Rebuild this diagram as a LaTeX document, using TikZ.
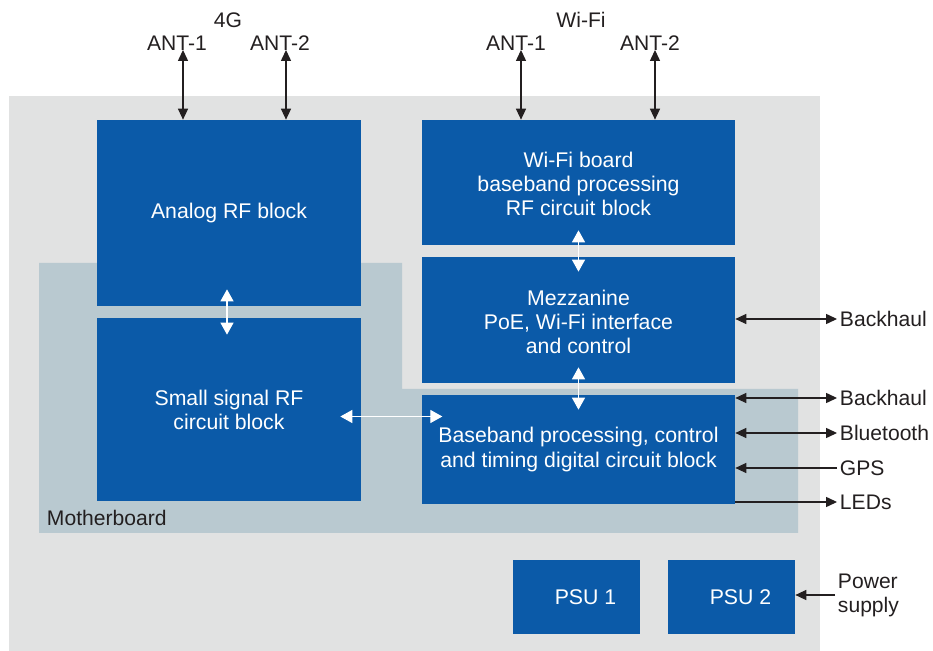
\documentclass[tikz,border=0pt]{standalone}
\usepackage{fontspec}
\setmainfont{Liberation Sans}
\usepackage{xcolor}
\usetikzlibrary{arrows.meta,fit,calc}
\definecolor{boxblue}{RGB}{11,90,168}
\definecolor{casegrey}{RGB}{225,226,226}
\definecolor{mbgrey}{RGB}{185,201,208}
\definecolor{inkdark}{RGB}{35,31,32}

\begin{document}
\begin{tikzpicture}[x=0.02cm,y=-0.02cm,
		font=\fontsize{12}{13.7}\selectfont,
		blk/.style={fill=boxblue,inner sep=0pt},
		btxt/.style={text=white,align=center,font=\fontsize{12.1}{13.7}\selectfont},
		lbl/.style={text=inkdark,inner sep=1.5pt},
		tip/.style={-{Triangle[length=6.2pt,width=5.7pt]},line width=0.6pt,draw=inkdark},
		dbl/.style={{Triangle[length=6.2pt,width=5.7pt]}-{Triangle[length=6.2pt,width=5.7pt]},line width=0.6pt,draw=inkdark},
		wdbl/.style={{Triangle[length=6.8pt,width=7.4pt]}-{Triangle[length=6.8pt,width=7.4pt]},line width=0.6pt,draw=white,fill=white}]
	\useasboundingbox (0,0) rectangle (933,651);
	% case and motherboard
	\fill[casegrey] (9,96) rectangle (820,651);
	\fill[mbgrey] (39,263) -| (402,389) -| (798,533) -| cycle;
	\node[lbl,anchor=west] (mb) at (44,518) {Motherboard};
	%
	\node[blk,fit={(97,120)(361,306)},label={[btxt]center:Analog RF block}] (an) {};
	\node[blk,fit={(97,318)(361,501)},label={[btxt]center:Small signal RF\\circuit block}] (ss) {};
	\node[blk,fit={(422,120)(735,245)},label={[btxt,yshift=-1pt]center:Wi-Fi board\\baseband processing\\RF circuit block}] (wb) {};
	\node[blk,fit={(422,257)(735,383)},label={[btxt,yshift=-1pt]center:Mezzanine\\PoE, Wi-Fi interface\\and control}] (mz) {};
	\node[blk,fit={(422,395)(735,504)},label={[btxt]center:Baseband processing, control\\and timing digital circuit block}] (bb) {};
	\node[blk,fit={(513,560)(640,634)},label={[btxt,xshift=0.18cm]center:PSU 1}] (p1) {};
	\node[blk,fit={(668,560)(795,634)},label={[btxt,xshift=0.18cm]center:PSU 2}] (p2) {};
	%
	\node[lbl] (lte) at (228,20) {4G};
	\node[lbl] (lt1) at (177,43) {ANT-1};
	\node[lbl] (lt2) at (280,43) {ANT-2};
	\node[lbl] (wif) at (581,20) {Wi-Fi};
	\node[lbl] (wf1) at (516,43) {ANT-1};
	\node[lbl] (wf2) at (650,43) {ANT-2};
	\coordinate (c1) at (183,50);
	\coordinate (c2) at (286,50);
	\coordinate (c3) at (521,50);
	\coordinate (c4) at (655,50);
	\draw[dbl] (c1) -- (c1 |- an.north);
	\draw[dbl] (c2) -- (c2 |- an.north);
	\draw[dbl] (c3) -- (c3 |- wb.north);
	\draw[dbl] (c4) -- (c4 |- wb.north);
	%
	\node[lbl,anchor=west] (bh1) at (837,319) {Backhaul};
	\node[lbl,anchor=west] (bh2) at (837,398) {Backhaul};
	\node[lbl,anchor=west] (bt) at (837,433) {Bluetooth};
	\node[lbl,anchor=west] (gps) at (837,468) {GPS};
	\node[lbl,anchor=west] (led) at (837,502) {LEDs};
	\node[lbl,anchor=west,align=left] (pwr) at (835,595) {Power\\supply};
	\draw[dbl] (mz.east |- bh1.west) -- (bh1.west);
	\draw[dbl] (bb.east |- bh2.west) -- (bh2.west);
	\draw[dbl] (bb.east |- bt.west) -- (bt.west);
	\draw[tip] (gps.west) -- (bb.east |- gps.west);
	\draw[tip] (bb.east |- led.west) -- (led.west);
	\draw[tip] (pwr.west) -- (p2.east |- pwr.west);
	%
	\draw[wdbl] ($(an.south)+(-2,-17)$) -- ($(ss.north)+(-2,17)$);
	\draw[wdbl] ($(wb.south)+(0,-15)$) -- ($(mz.north)+(0,15)$);
	\draw[wdbl] ($(mz.south)+(0,-16)$) -- ($(bb.north)+(0,15)$);
	\draw[wdbl] ($(ss.east)+(-21,7)$) -- ++(102,0);
\end{tikzpicture}
\end{document}
